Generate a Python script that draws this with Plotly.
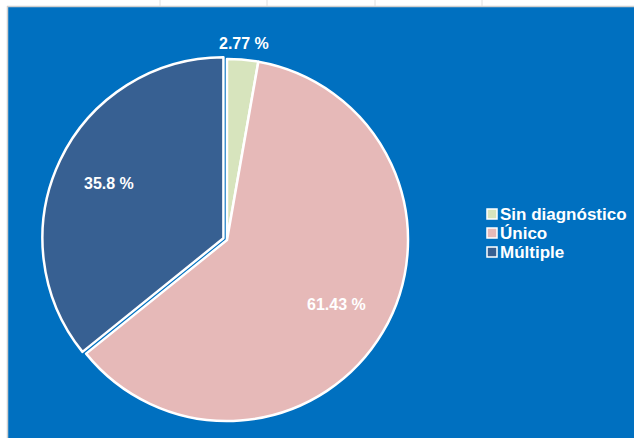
import math
import plotly.graph_objects as go

# Diagnosis categories and their share of cases (%)
categorias = ["Sin diagnóstico", "Único", "Múltiple"]
porcentajes = [2.77, 61.43, 35.8]
colores = ["#D7E4BD", "#E6B9B8", "#376092"]

W, H = 634, 438
FONDO = "#0070C0"
FUENTE = dict(family="Liberation Sans", size=16, color="white", weight="bold")

etiquetas = [f"{v:g} %" for v in porcentajes]

# pie centre / radius in pixels
cx, cy, r = 227, 240, 181
pull = [0.0, 0.0, 0.022]
half = r * (1 + max(pull))

fig = go.Figure(
    go.Pie(
        labels=categorias,
        values=porcentajes,
        text=etiquetas,
        textinfo="none",
        sort=False,
        direction="clockwise",
        rotation=0,
        pull=pull,
        marker=dict(colors=colores, line=dict(color="white", width=2.5)),
        domain=dict(
            x=[(cx - half) / W, (cx + half) / W],
            y=[(H - cy - half) / H, (H - cy + half) / H],
        ),
        hoverinfo="label+percent",
        showlegend=False,
    )
)

# value labels placed along each slice's mid-angle
total = sum(porcentajes)
anotaciones = []
acum = 0.0
for v, txt, p in zip(porcentajes, etiquetas, pull):
    ang = 2 * math.pi * (acum + v / 2) / total
    acum += v
    share = v / total
    rad = 1.09 if share < 0.05 else 0.70
    ox = cx + p * r * math.sin(ang)
    oy = cy - p * r * math.cos(ang)
    px = ox + rad * r * math.sin(ang)
    py = oy - rad * r * math.cos(ang)
    anotaciones.append(dict(x=px / W, y=1 - py / H, xref="paper", yref="paper",
                            text=txt, showarrow=False, font=FUENTE,
                            xanchor="center", yanchor="middle"))

# legend: swatches and category names
shapes = []
leg_x, leg_y0, leg_dy, sw = 487, 214, 19, 10
for i, (cat, col) in enumerate(zip(categorias, colores)):
    yc = leg_y0 + i * leg_dy
    shapes.append(dict(type="rect", xref="paper", yref="paper",
                       x0=leg_x / W, x1=(leg_x + sw) / W,
                       y0=1 - (yc + sw / 2) / H, y1=1 - (yc - sw / 2) / H,
                       fillcolor=col, line=dict(color="white", width=1.5)))
    anotaciones.append(dict(x=(leg_x + sw + 1) / W, y=1 - yc / H, xref="paper", yref="paper",
                            text=cat, showarrow=False, xanchor="left", yanchor="middle",
                            font=dict(family="Liberation Sans", size=17, color="white", weight="bold")))

# white sheet strips along top and left edges with grid lines
shapes += [
    dict(type="rect", xref="paper", yref="paper", x0=0, x1=1, y0=1 - 7 / H, y1=1,
         fillcolor="white", line_width=0, layer="below"),
    dict(type="rect", xref="paper", yref="paper", x0=0, x1=8 / W, y0=0, y1=1,
         fillcolor="white", line_width=0, layer="below"),
    dict(type="line", xref="paper", yref="paper", x0=7 / W, x1=1, y0=1 - 6.5 / H, y1=1 - 6.5 / H,
         line=dict(color="#cfcfcf", width=1.5), layer="below"),
    dict(type="line", xref="paper", yref="paper", x0=7.5 / W, x1=7.5 / W, y0=0, y1=1 - 6 / H,
         line=dict(color="#cfcfcf", width=1.5), layer="below"),
]
for gx in [160, 267, 375, 482]:
    shapes.append(dict(type="line", xref="paper", yref="paper", x0=gx / W, x1=gx / W,
                       y0=1 - 6 / H, y1=1, line=dict(color="#e0e0e0", width=1), layer="below"))

fig.update_layout(
    width=W,
    height=H,
    margin=dict(l=0, r=0, t=0, b=0),
    paper_bgcolor=FONDO,
    plot_bgcolor=FONDO,
    shapes=shapes,
    annotations=anotaciones,
    showlegend=False,
)

fig.write_html("out.html")
